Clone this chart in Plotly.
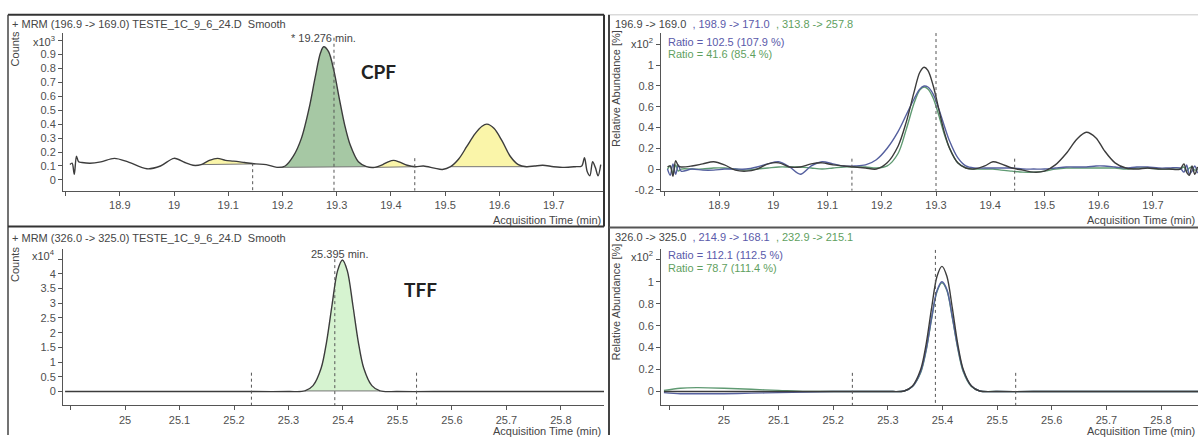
import plotly.graph_objects as go

W, H = 1198, 440

# ---------------- data ----------------
# Top-left: CPF quantifier chromatogram, counts x10^3
cpf_time = [18.808, 18.812, 18.816, 18.82, 18.824, 18.83, 18.845, 18.865, 18.89, 18.915,
            18.95, 18.975, 19.0, 19.02, 19.035, 19.05, 19.065, 19.08, 19.095, 19.11,
            19.13, 19.15, 19.17, 19.19, 19.205, 19.22, 19.235, 19.25, 19.26, 19.27,
            19.276, 19.285, 19.295, 19.305, 19.315, 19.325, 19.34, 19.355, 19.37, 19.385,
            19.395, 19.405, 19.415, 19.43, 19.445, 19.46, 19.48, 19.495, 19.51, 19.525,
            19.54, 19.555, 19.568, 19.577, 19.59, 19.605, 19.62, 19.635, 19.65, 19.665,
            19.68, 19.7, 19.72, 19.74, 19.752, 19.757, 19.762, 19.767, 19.772, 19.777,
            19.782, 19.787]
cpf_counts = [0.11, 0.12, 0.04, 0.17, 0.13, 0.125, 0.12, 0.13, 0.155, 0.13,
              0.08, 0.10, 0.155, 0.125, 0.105, 0.11, 0.14, 0.155, 0.14, 0.135,
              0.125, 0.115, 0.11, 0.09, 0.10, 0.17, 0.30, 0.53, 0.73, 0.91,
              0.955, 0.92, 0.78, 0.58, 0.39, 0.25, 0.13, 0.095, 0.09, 0.11,
              0.13, 0.14, 0.13, 0.105, 0.095, 0.10, 0.085, 0.075, 0.095, 0.15,
              0.24, 0.33, 0.385, 0.40, 0.37, 0.28, 0.17, 0.11, 0.095, 0.10,
              0.105, 0.095, 0.09, 0.095, 0.10, 0.16, 0.06, 0.03, 0.13, 0.09,
              0.03, 0.11]
# integrated peaks (start, end, kind)
cpf_peaks = [(19.05, 19.15, "other"), (19.19, 19.355, "target"),
             (19.37, 19.445, "other"), (19.51, 19.65, "other")]
cpf_marks = [19.145, 19.295, 19.444]

# Top-right: CPF qualifier overlay, relative abundance x10^2
cpfq_time = [18.805, 18.81, 18.815, 18.82, 18.825, 18.83,
             18.85, 18.87, 18.89, 18.91, 18.93, 18.95, 18.97, 18.99, 19.01, 19.03,
             19.05, 19.07, 19.09, 19.11, 19.13, 19.15, 19.17, 19.19,
             19.21, 19.23, 19.245, 19.26, 19.27, 19.278, 19.285, 19.295, 19.305, 19.315,
             19.325, 19.34, 19.355,
             19.37, 19.39, 19.405, 19.42, 19.44, 19.46, 19.48, 19.5, 19.52, 19.54,
             19.56, 19.577, 19.595, 19.61, 19.63, 19.65, 19.67, 19.69, 19.71, 19.73, 19.75,
             19.757, 19.762, 19.767, 19.772, 19.777, 19.782]
cpfq_main = [0.02, 0.03, -0.07, 0.08, 0.03, 0.02,
             0.03, 0.05, 0.07, 0.04, -0.01, -0.02, 0.0, 0.05, 0.06, 0.02, 0.02, 0.05, 0.06,
             0.04, 0.03, 0.02, 0.01, 0.0,
             0.06, 0.22, 0.45, 0.75, 0.93, 0.98, 0.95, 0.80, 0.58, 0.36, 0.20, 0.06, 0.01,
             0.0, 0.03, 0.07, 0.05, 0.01, -0.01, -0.03, -0.02, 0.04, 0.15, 0.29, 0.355,
             0.30, 0.18, 0.06, 0.01, 0.0, 0.01, 0.0, 0.0, 0.0,
             0.05, -0.03, -0.06, 0.03, -0.05, 0.02]
cpfq_q1 = [0.0, -0.06, 0.05, -0.05, 0.04, -0.02,
           0.0, -0.01, -0.01, 0.0, 0.0, 0.0, 0.02, 0.05, 0.07, 0.02, -0.05, 0.03, 0.07,
           0.05, 0.03, 0.03, 0.04, 0.09,
           0.2, 0.36, 0.52, 0.68, 0.77, 0.80, 0.79, 0.72, 0.58, 0.42, 0.27, 0.11, 0.03,
           0.01, 0.01, 0.01, 0.01, 0.01, 0.0, 0.0, 0.0, 0.01, 0.02, 0.02, 0.02, 0.03,
           0.03, 0.02, 0.01, 0.02, 0.02, 0.01, 0.01, 0.01,
           -0.03, 0.04, -0.05, -0.02, 0.03, -0.04]
cpfq_q2 = [0.0, 0.03, -0.04, 0.04, -0.02, 0.0,
           0.0, 0.0, 0.01, 0.01, 0.0, -0.01, 0.0, 0.01, 0.02, 0.02, 0.02, 0.01, 0.0,
           0.01, 0.02, 0.02, 0.02, 0.01,
           0.03, 0.15, 0.38, 0.64, 0.76, 0.79, 0.77, 0.68, 0.52, 0.34, 0.20, 0.06, 0.01,
           0.0, 0.0, 0.0, -0.01, -0.02, -0.03, -0.03, -0.02, 0.0, 0.01, 0.01, 0.01, 0.01,
           0.01, 0.01, 0.0, 0.01, 0.01, 0.0, 0.0, 0.0,
           0.02, -0.02, 0.01, 0.02, -0.01, 0.0]
cpfq_marks = [19.145, 19.3, 19.445]

# Bottom-left: TFF quantifier chromatogram, counts x10^4
tff_time = [24.89, 25.0, 25.1, 25.2, 25.3, 25.33, 25.345, 25.36, 25.37, 25.38, 25.39,
            25.399, 25.408, 25.418, 25.428, 25.438, 25.453, 25.468, 25.5, 25.6, 25.7,
            25.8, 25.88]
tff_counts = [0.0, 0.0, 0.0, 0.0, 0.0, 0.02, 0.2, 0.8, 1.7, 2.95, 4.1,
              4.47, 4.1, 2.95, 1.7, 0.8, 0.2, 0.02, 0.0, 0.0, 0.0,
              0.0, 0.0]
tff_peaks = [(25.33, 25.468, "target")]
tff_marks = [25.232, 25.385, 25.535]

# Bottom-right: TFF qualifier overlay, relative abundance x10^2
tffq_time = [24.89, 24.92, 24.95, 25.0, 25.05, 25.1, 25.15, 25.2, 25.25, 25.3,
             25.33, 25.345, 25.36, 25.37, 25.38, 25.39, 25.399, 25.408, 25.418, 25.428,
             25.438, 25.453, 25.468, 25.5, 25.6, 25.7, 25.8, 25.88]
tffq_main = [0, 0, 0, 0, 0, 0, 0, 0, 0, 0,
             0.005, 0.05, 0.2, 0.43, 0.76, 1.05, 1.14, 1.05, 0.76, 0.43,
             0.2, 0.05, 0.005, 0, 0, 0, 0, 0]
tffq_q1 = [-0.01, -0.02, -0.02, -0.02, -0.015, -0.01, -0.005, 0, 0, 0,
           0.005, 0.045, 0.18, 0.38, 0.67, 0.92, 1.0, 0.93, 0.68, 0.4,
           0.19, 0.05, 0.005, 0, 0, 0, 0, 0]
tffq_q2 = [0.01, 0.03, 0.035, 0.03, 0.02, 0.01, 0.0, 0, 0, 0,
           0.005, 0.045, 0.17, 0.37, 0.66, 0.91, 0.99, 0.92, 0.67, 0.39,
           0.18, 0.045, 0.005, 0, 0, 0, 0, 0]
tffq_marks = [25.235, 25.387, 25.534]

# tick labels
cpf_xticks = [18.8, 18.9, 19.0, 19.1, 19.2, 19.3, 19.4, 19.5, 19.6, 19.7]
cpf_xtext = ["", "18.9", "19", "19.1", "19.2", "19.3", "19.4", "19.5", "19.6", "19.7"]
tff_xticks = [24.9, 25.0, 25.1, 25.2, 25.3, 25.4, 25.5, 25.6, 25.7, 25.8]
tff_xtext = ["", "25", "25.1", "25.2", "25.3", "25.4", "25.5", "25.6", "25.7", "25.8"]
cpf_yticks = [0, 0.1, 0.2, 0.3, 0.4, 0.5, 0.6, 0.7, 0.8, 0.9, 1.0]
cpf_ytext = ["0", "0.1", "0.2", "0.3", "0.4", "0.5", "0.6", "0.7", "0.8", "0.9", ""]
tff_yticks = [0, 0.5, 1, 1.5, 2, 2.5, 3, 3.5, 4, 4.5]
tff_ytext = ["0", "0.5", "1", "1.5", "2", "2.5", "3", "3.5", "4", ""]
rel_top_yticks = [-0.2, 0, 0.2, 0.4, 0.6, 0.8, 1.0, 1.2]
rel_top_ytext = ["-0.2", "0", "0.2", "0.4", "0.6", "0.8", "1", ""]
rel_bot_yticks = [0, 0.2, 0.4, 0.6, 0.8, 1.0, 1.2]
rel_bot_ytext = ["0", "0.2", "0.4", "0.6", "0.8", "1", ""]

# ---------------- styling ----------------
FONT = "Liberation Sans"
C_MAIN = "#3c3c3c"
C_Q1 = "#55609f"
C_Q2 = "#5f9a72"
C_TXT = "#454545"
C_BLUE_TXT = "#5a5aaa"
C_GREEN_TXT = "#5f9f5f"
FILL_TARGET_TOP = "rgba(150,190,148,0.85)"
FILL_OTHER = "rgba(250,244,160,0.9)"
FILL_TARGET_BOT = "rgba(212,242,206,0.95)"


def px(x):
    return x / W


def py(y):
    return 1 - y / H


fig = go.Figure()


def add_peak_fills(xs, ys, peaks, target_fill, xa, ya):
    for (x0, x1, kind) in peaks:
        idx = [i for i, v in enumerate(xs) if x0 - 1e-9 <= v <= x1 + 1e-9]
        sx = [xs[i] for i in idx]
        sy = [ys[i] for i in idx]
        fig.add_trace(go.Scatter(x=[sx[0], sx[-1]], y=[sy[0], sy[-1]], mode="lines",
                                 line=dict(color="#777777", width=1),
                                 xaxis=xa, yaxis=ya, hoverinfo="skip", showlegend=False))
        fig.add_trace(go.Scatter(x=sx, y=sy, mode="lines",
                                 line=dict(width=0, shape="spline", smoothing=0.9),
                                 fill="tonexty",
                                 fillcolor=target_fill if kind == "target" else FILL_OTHER,
                                 xaxis=xa, yaxis=ya, hoverinfo="skip", showlegend=False))


def add_line(xs, ys, color, xa, ya, width=1.4):
    fig.add_trace(go.Scatter(x=xs, y=ys, mode="lines",
                             line=dict(color=color, width=width, shape="spline", smoothing=0.9),
                             xaxis=xa, yaxis=ya, hoverinfo="skip", showlegend=False))


# top-left
add_peak_fills(cpf_time, cpf_counts, cpf_peaks, FILL_TARGET_TOP, "x", "y")
add_line(cpf_time, cpf_counts, C_MAIN, "x", "y")
# top-right
add_line(cpfq_time, cpfq_q2, C_Q2, "x2", "y2")
add_line(cpfq_time, cpfq_q1, C_Q1, "x2", "y2")
add_line(cpfq_time, cpfq_main, C_MAIN, "x2", "y2")
# bottom-left
add_peak_fills(tff_time, tff_counts, tff_peaks, FILL_TARGET_BOT, "x3", "y3")
add_line(tff_time, tff_counts, C_MAIN, "x3", "y3")
# bottom-right
add_line(tffq_time, tffq_q2, C_Q2, "x4", "y4")
add_line(tffq_time, tffq_q1, C_Q1, "x4", "y4")
add_line(tffq_time, tffq_main, C_MAIN, "x4", "y4")


def axis(domain, rng, tv, tt, anchor):
    return dict(domain=domain, range=rng, tickvals=tv, ticktext=tt, anchor=anchor,
                showline=True, linecolor="#555555", linewidth=1,
                ticks="outside", ticklen=4, tickcolor="#555555", tickwidth=1,
                showgrid=False, zeroline=False, fixedrange=True,
                tickfont=dict(family=FONT, size=11, color="#505050"))


XL = [px(63), px(604)]
XR = [px(661), 1.0]
YT = [py(193), py(33)]
YB = [py(410), py(252)]

fig.update_layout(
    width=W, height=H, margin=dict(l=0, r=0, t=0, b=0),
    paper_bgcolor="white", plot_bgcolor="white", showlegend=False,
    font=dict(family=FONT, size=11, color=C_TXT),
    xaxis=axis(XL, [18.7952, 19.793], cpf_xticks, cpf_xtext, "y"),
    yaxis=axis(YT, [-0.078, 1.0567], cpf_yticks, cpf_ytext, "x"),
    xaxis2=axis(XR, [18.793, 19.783], cpf_xticks, cpf_xtext, "y2"),
    yaxis2=axis(YT, [-0.2095, 1.314], rel_top_yticks, rel_top_ytext, "x2"),
    xaxis3=axis(XL, [24.8862, 25.879], tff_xticks, tff_xtext, "y3"),
    yaxis3=axis(YB, [-0.47, 4.84], tff_yticks, tff_ytext, "x3"),
    xaxis4=axis(XR, [24.8847, 25.8677], tff_xticks, tff_xtext, "y4"),
    yaxis4=axis(YB, [-0.126, 1.297], rel_bot_yticks, rel_bot_ytext, "x4"),
)

# dotted integration / RT markers
shapes = []


def vmark(x, y0, y1, xa, ya):
    shapes.append(dict(type="line", xref=xa, yref=ya, x0=x, x1=x, y0=y0, y1=y1,
                       line=dict(color="#555555", width=1, dash="dot")))


vmark(cpf_marks[0], 0.12, -0.078, "x", "y")
vmark(cpf_marks[1], 1.02, -0.078, "x", "y")
vmark(cpf_marks[2], 0.156, -0.078, "x", "y")
vmark(cpfq_marks[0], 0.1, -0.2095, "x2", "y2")
vmark(cpfq_marks[1], 1.31, -0.2095, "x2", "y2")
vmark(cpfq_marks[2], 0.1, -0.2095, "x2", "y2")
vmark(tff_marks[0], 0.64, -0.47, "x3", "y3")
vmark(tff_marks[1], 4.5, -0.47, "x3", "y3")
vmark(tff_marks[2], 0.64, -0.47, "x3", "y3")
vmark(tffq_marks[0], 0.17, -0.126, "x4", "y4")
vmark(tffq_marks[1], 1.29, -0.126, "x4", "y4")
vmark(tffq_marks[2], 0.17, -0.126, "x4", "y4")


def pline(x0, y0, x1, y1, color, width):
    shapes.append(dict(type="line", xref="paper", yref="paper",
                       x0=px(x0), y0=py(y0), x1=px(x1), y1=py(y1),
                       line=dict(color=color, width=width)))


# window frames
pline(610, 15, 1198, 15, "#c8c8c8", 1)
pline(8, 15, 604, 15, "#333333", 2)
pline(8, 15, 8, 440, "#444444", 1.5)
pline(604, 15, 604, 229, "#333333", 2)
pline(8, 229, 604, 229, "#333333", 2)
pline(609, 15, 609, 440, "#444444", 2)
pline(609, 230, 1198, 230, "#555555", 2)
fig.update_layout(shapes=shapes)

ann = []


def text(x, y, s, xanchor="left", size=11, color=C_TXT, angle=0, bold=False, family=FONT,
         yanchor="middle"):
    ann.append(dict(x=px(x), y=py(y), xref="paper", yref="paper", text=s, showarrow=False,
                    xanchor=xanchor, yanchor=yanchor, textangle=angle,
                    font=dict(family=family, size=size, color=color,
                              weight="bold" if bold else "normal")))


# top-left
text(10, 24, "+ MRM (196.9 -&gt; 169.0) TESTE_1C_9_6_24.D  Smooth")
text(57, 41, "x10<sup>3</sup>", xanchor="right")
text(15, 50, "Counts", xanchor="center", angle=-90)
text(289, 38, "* 19.276 min.")
text(378, 72, "CPF", xanchor="center", size=19, color="#222222", bold=True, family="Lato")
text(603, 223, "Acquisition Time (min)", xanchor="right")
# bottom-left
text(10, 241, "+ MRM (326.0 -&gt; 325.0) TESTE_1C_9_6_24.D  Smooth")
text(57, 258, "x10<sup>4</sup>", xanchor="right")
text(15, 268, "Counts", xanchor="center", angle=-90)
text(339, 257, "25.395 min.", xanchor="center")
text(420, 293, "TFF", xanchor="center", size=19, color="#222222", bold=True, family="Lato")
text(603, 436, "Acquisition Time (min)", xanchor="right")
# top-right
text(613, 24, "196.9 -&gt; 169.0  <span style='color:%s'>, 198.9 -&gt; 171.0</span>"
     "  <span style='color:%s'>, 313.8 -&gt; 257.8</span>" % (C_BLUE_TXT, C_GREEN_TXT))
text(655, 43, "x10<sup>2</sup>", xanchor="right")
text(666, 42, "Ratio = 102.5 (107.9 %)", color=C_BLUE_TXT)
text(666, 55, "Ratio = 41.6 (85.4 %)", color=C_GREEN_TXT)
text(616, 90, "Relative Abundance [%]", xanchor="center", angle=-90)
text(1197, 223, "Acquisition Time (min)", xanchor="right")
# bottom-right
text(613, 240, "326.0 -&gt; 325.0  <span style='color:%s'>, 214.9 -&gt; 168.1</span>"
     "  <span style='color:%s'>, 232.9 -&gt; 215.1</span>" % (C_BLUE_TXT, C_GREEN_TXT))
text(655, 259, "x10<sup>2</sup>", xanchor="right")
text(666, 258, "Ratio = 112.1 (112.5 %)", color=C_BLUE_TXT)
text(666, 271, "Ratio = 78.7 (111.4 %)", color=C_GREEN_TXT)
text(616, 306, "Relative Abundance [%]", xanchor="center", angle=-90)
text(1197, 436, "Acquisition Time (min)", xanchor="right")

fig.update_layout(annotations=ann)

fig.write_html("out.html", config={"displayModeBar": False},
               post_script="document.body.style.margin='0';document.body.style.overflow='hidden';")
